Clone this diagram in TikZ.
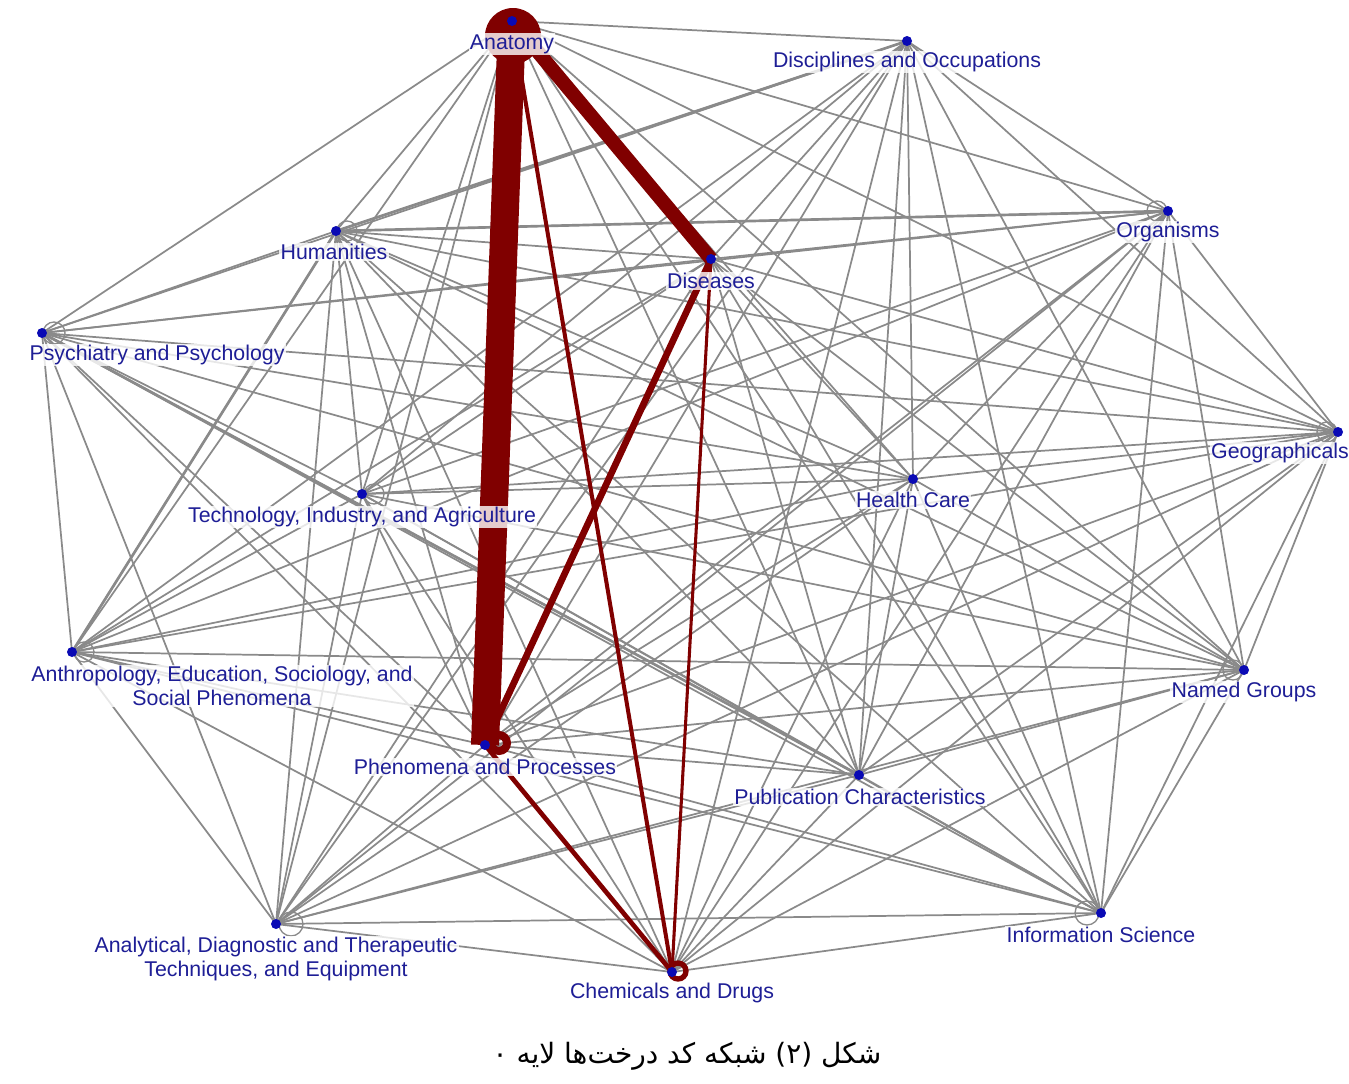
\documentclass[tikz,border=0pt]{standalone}
\usepackage{fontspec}
\setmainfont{Liberation Sans}
\newfontfamily\arabicfont[Script=Arabic]{DejaVu Sans}
\TeXXeTstate=1
\usetikzlibrary{calc}
\pgfdeclarelayer{bg}
\pgfdeclarelayer{labs}
\pgfsetlayers{bg,labs,main}
\definecolor{edgegray}{RGB}{138,138,138}
\definecolor{darkred}{RGB}{128,0,0}
\definecolor{labblue}{RGB}{30,30,150}
\definecolor{dotblue}{RGB}{10,10,180}
\begin{document}
\begin{tikzpicture}[x=0.75pt,y=-0.75pt,
  dot/.style={circle,fill=dotblue,inner sep=0pt,minimum size=7.5pt},
  lab/.style={text=labblue,font=\fontsize{16}{18}\selectfont,fill=white,fill opacity=0.8,text opacity=1,inner sep=1pt,align=center},
  gedge/.style={draw=edgegray,line width=1.3pt},
  gthick/.style={draw=edgegray,line width=2pt},
  redge/.style={draw=darkred},
  gloop/.style={draw=edgegray,line width=1pt},
  rloop/.style={draw=darkred},
]
\useasboundingbox (0,0) rectangle (1349,1083);
% nodes
\node[dot] (ana) at (512,21) {};
\node[dot] (dis) at (907,41) {};
\node[dot] (org) at (1168,211) {};
\node[dot] (hum) at (336,231) {};
\node[dot] (dse) at (711,259) {};
\node[dot] (psy) at (42,333) {};
\node[dot] (geo) at (1338,432) {};
\node[dot] (hc) at (913,479) {};
\node[dot] (tec) at (362,494) {};
\node[dot] (ant) at (72,652) {};
\node[dot] (ng) at (1244,670) {};
\node[dot] (phe) at (485,745) {};
\node[dot] (pub) at (859,775) {};
\node[dot] (inf) at (1101,913) {};
\node[dot] (adt) at (276,924) {};
\node[dot] (chd) at (672,972) {};

\begin{pgfonlayer}{bg}
\foreach \a [count=\i] in {ana,dis,org,hum,dse,psy,geo,hc,tec,ant,ng,phe,pub,inf,adt,chd}{
  \foreach \b [count=\j] in {ana,dis,org,hum,dse,psy,geo,hc,tec,ant,ng,phe,pub,inf,adt,chd}{
    \ifnum\j>\i\relax \draw[gedge] (\a.center) -- (\b.center); \fi
  }
}
\draw[gthick] (hum.center) -- (dis.center);
\draw[gthick] (psy.center) -- (pub.center);
\draw[gthick] (ant.center) -- (hum.center);
\draw[gthick] (hum.center) -- (org.center);
% grey loops
\draw[gloop] ($(hum)+(11,0)$) circle[radius=10];
\draw[gloop] ($(psy)+(12,0)$) circle[radius=11];
\draw[gloop] ($(org)+(-11,0)$) circle[radius=10];
\draw[gloop] ($(geo)+(-11,0)$) circle[radius=10];
\draw[gloop] ($(inf)+(-14,0)$) circle[radius=12];
\draw[gloop] ($(adt)+(15,0)$) circle[radius=12];
\draw[gloop] ($(ant)+(12,0)$) circle[radius=10];
\draw[gloop] ($(ng)+(-11,0)$) circle[radius=10];
\draw[gloop] ($(tec)+(12,0)$) circle[radius=10];
% red loops and edges
\fill[darkred] ($(ana)+(1,15)$) circle[radius=28];
\draw[redge,line width=21pt] (ana.center) -- (phe.center);
\draw[redge,line width=10.5pt] (ana.center) -- (dse.center);
\draw[redge,line width=5pt] (dse.center) -- (phe.center);
\draw[redge,line width=3pt] (ana.center) -- (chd.center);
\draw[redge,line width=2.3pt] (dse.center) -- (chd.center);
\draw[redge,line width=3.5pt] (phe.center) -- (chd.center);
\draw[rloop,line width=6pt] ($(phe)+(14,-2)$) circle[radius=8];
\draw[rloop,line width=4pt] ($(chd)+(6,-1)$) circle[radius=8];
\end{pgfonlayer}

\begin{pgfonlayer}{labs}
\node[lab] (anaL) at (512,44) {Anatomy};
\node[lab] (disL) at (907,62) {Disciplines and Occupations};
\node[lab] (orgL) at (1168,232) {Organisms};
\node[lab] (humL) at (334,252) {Humanities};
\node[lab] (dseL) at (711,281) {Diseases};
\node[lab] (psyL) at (157,355) {Psychiatry and Psychology};
\node[lab] (geoL) at (1280,453) {Geographicals};
\node[lab] (hcL) at (913,500) {Health Care};
\node[lab] (tecL) at (362,517) {Technology, Industry, and Agriculture};
\node[lab] (antL) at (222,686) {Anthropology, Education, Sociology, and\\Social Phenomena};
\node[lab] (ngL) at (1244,692) {Named Groups};
\node[lab] (pheL) at (485,767) {Phenomena and Processes};
\node[lab] (pubL) at (860,797) {Publication Characteristics};
\node[lab] (infL) at (1101,935) {Information Science};
\node[lab] (adtL) at (276,959) {Analytical, Diagnostic and Therapeutic\\Techniques, and Equipment};
\node[lab] (chdL) at (672,993) {Chemicals and Drugs};
\end{pgfonlayer}

\node[font=\arabicfont\fontsize{21}{24}\selectfont] (cap) at (687,1056) {\beginR شکل (۲) شبکه کد درخت‌ها لایه ۰\endR};
\end{tikzpicture}
\end{document}
